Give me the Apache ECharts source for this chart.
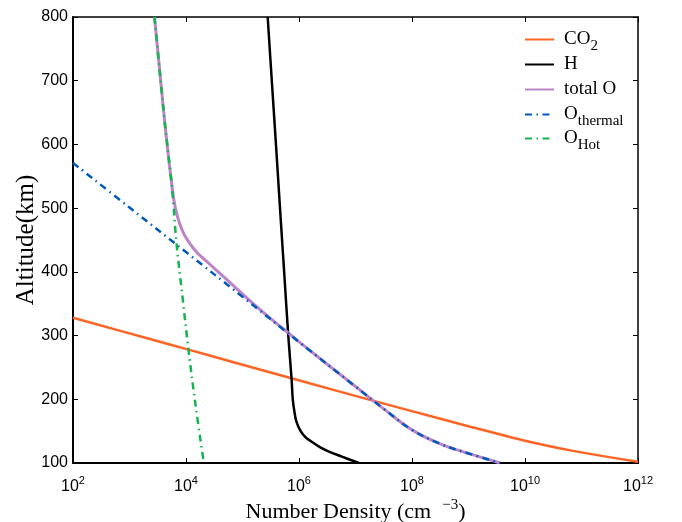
<!DOCTYPE html>
<html>
<head>
<meta charset="utf-8">
<script src="https://cdn.jsdelivr.net/npm/echarts@6/dist/echarts.min.js"></script>
<style>
html,body{margin:0;padding:0;background:#fff;}
#chart{width:682px;height:522px;}
</style>
</head>
<body>
<div id="chart"></div>
<script>
// ---- data (number density in cm^-3, altitude in km) ----
const co2Density = [1.0e2, 2.3e3, 1.15e4, 6.0e4, 8.5e5, 2.1e7, 3.2e8, 1.07e9, 2.4e9, 1.0e10, 7.1e10, 1.0e12];
const co2Altitude = [328, 294.5, 277.5, 259.8, 231.5, 197.5, 169.5, 157, 149, 135, 119, 102];

const hDensity = [2.79e5, 3.30e5, 3.91e5, 4.61e5, 5.46e5, 6.46e5, 7.41e5, 7.76e5, 8.32e5, 9.0e5, 1.07e6, 1.32e6, 1.70e6, 2.34e6, 3.39e6, 5.75e6, 1.15e7];
const hAltitude = [800, 700, 600, 500, 400, 300, 230, 200, 180, 165, 150, 140, 133, 125, 118, 110, 100];

const totalODensity = [2.77e3, 3.56e3, 4.17e3, 4.90e3, 5.56e3, 6.17e3, 6.92e3, 7.76e3, 9.12e3, 1.10e4, 1.35e4, 1.66e4, 2.09e4, 2.95e4, 4.17e4, 5.89e4, 1.12e5, 2.09e5, 3.89e5, 7.41e5, 1.0e6, 1.0e7, 3.16e7, 1.0e8, 3.16e8, 1.0e9, 3.63e9];
const totalOAltitude = [800, 700, 638, 580, 540, 510, 490, 475, 460, 448, 437, 428, 420, 408, 396, 384, 361, 340, 320, 300, 290, 220, 185, 152, 130, 115, 100];

const oThermalDensity = [1.0e2, 1.0e3, 1.0e4, 1.0e5, 1.0e6, 1.0e7, 3.16e7, 1.0e8, 3.16e8, 1.0e9, 3.63e9];
const oThermalAltitude = [571, 501, 431, 361, 290, 220, 185, 152, 130, 115, 100];

const oHotDensity = [2.77e3, 3.56e3, 4.17e3, 5.65e3, 6.79e3, 8.69e3, 1.11e4, 1.48e4, 2.07e4];
const oHotAltitude = [800, 700, 638, 532, 445, 360, 277, 190, 100];

const yTicks = [100, 200, 300, 400, 500, 600, 700, 800];

function pairs(xs, ys) { return xs.map((x, i) => [x, ys[i]]); }

const SERIF = '"Liberation Serif", "DejaVu Serif", serif';
const SANS = '"Liberation Sans", Arial, sans-serif';

const seriesDefs = [
  { name: 'CO2', label: 'CO{sub|2}', data: pairs(co2Density, co2Altitude), color: '#FF6424', width: 2.5, type: 'solid' },
  { name: 'H', label: 'H', data: pairs(hDensity, hAltitude), color: '#000000', width: 2.5, type: 'solid' },
  { name: 'total O', label: 'total O', data: pairs(totalODensity, totalOAltitude), color: '#BE82C8', width: 3, type: 'solid' },
  { name: 'O thermal', label: 'O{sub|thermal}', data: pairs(oThermalDensity, oThermalAltitude), color: '#005ABE', width: 2.5, type: [7, 4.5, 1.5, 4.5] },
  { name: 'O Hot', label: 'O{sub|Hot}', data: pairs(oHotDensity, oHotAltitude), color: '#14B450', width: 2.5, type: [7, 4.5, 1.5, 4.5] }
];

const legendRich = {
  sub: { fontFamily: SERIF, fontSize: 15, color: '#000', padding: [13, 0, 0, 0] }
};
const legendTops = [30, 55, 80, 105, 129];

const chart = echarts.init(document.getElementById('chart'), null, { renderer: 'canvas' });

const option = {
  animation: false,
  backgroundColor: '#ffffff',
  grid: { left: 73, right: 44, top: 17, bottom: 59, containLabel: false, outerBoundsMode: 'none' },
  legend: seriesDefs.map((s, i) => ({
    data: [s.name],
    left: 524,
    top: legendTops[i],
    orient: 'vertical',
    itemWidth: 29,
    itemHeight: 14,
    itemGap: 0,
    padding: 0,
    selectedMode: false,
    itemStyle: { opacity: 0, color: 'rgba(0,0,0,0)', borderWidth: 0 },
    formatter: () => s.label,
    textStyle: { fontFamily: SERIF, fontSize: 19, color: '#000', padding: [0, 0, 0, 5], rich: legendRich }
  })),
  xAxis: [
    {
      type: 'log', logBase: 10, min: 1e2, max: 1e12, interval: 2,
      position: 'bottom',
      axisLine: { show: true, onZero: false, lineStyle: { color: '#000', width: 2 } },
      axisTick: { show: true, inside: true, length: 5, lineStyle: { color: '#000', width: 1 } },
      minorTick: { show: false },
      splitLine: { show: false },
      axisLabel: {
        margin: 12,
        fontFamily: SANS, fontSize: 16, color: '#000',
        formatter: v => '10{sup|' + Math.round(Math.log10(v)) + '}',
        rich: { sup: { fontFamily: SANS, fontSize: 11, color: '#000', padding: [0, 0, 12, 0] } }
      },
      name: 'Number Density (cm  {sup|−3})',
      nameLocation: 'middle',
      nameMoveOverlap: false,
      nameGap: 35,
      nameTextStyle: {
        fontFamily: SERIF, fontSize: 22, color: '#000',
        rich: { sup: { fontFamily: SERIF, fontSize: 15, color: '#000', padding: [0, 0, 14, 0] } }
      }
    },
    {
      type: 'log', logBase: 10, min: 1e2, max: 1e12, interval: 2,
      position: 'top',
      axisLine: { show: true, onZero: false, lineStyle: { color: '#000', width: 1.5 } },
      axisTick: { show: true, inside: true, length: 5, lineStyle: { color: '#000', width: 1 } },
      axisLabel: { show: false },
      splitLine: { show: false }
    }
  ],
  yAxis: [
    {
      type: 'value', min: 100, max: 800, interval: 100,
      position: 'left',
      axisLine: { show: true, onZero: false, lineStyle: { color: '#000', width: 2 } },
      axisTick: { show: true, inside: true, length: 5, lineStyle: { color: '#000', width: 1 } },
      splitLine: { show: false },
      axisLabel: { margin: 5, fontFamily: SANS, fontSize: 16, color: '#000',
        formatter: v => (yTicks.indexOf(v) >= 0 ? String(v) : '') },
      name: 'Altitude(km)',
      nameLocation: 'middle',
      nameMoveOverlap: false,
      nameGap: 34,
      nameTextStyle: { fontFamily: SERIF, fontSize: 25, color: '#000' }
    },
    {
      type: 'value', min: 100, max: 800, interval: 100,
      position: 'right',
      axisLine: { show: true, onZero: false, lineStyle: { color: '#000', width: 1.5 } },
      axisTick: { show: true, inside: true, length: 5, lineStyle: { color: '#000', width: 1 } },
      axisLabel: { show: false },
      splitLine: { show: false }
    }
  ],
  series: seriesDefs.map(s => ({
    name: s.name,
    type: 'line',
    xAxisIndex: 0,
    yAxisIndex: 0,
    data: s.data,
    smooth: 0.4,
    symbol: 'none',
    showSymbol: false,
    clip: true,
    color: s.color,
    lineStyle: { color: s.color, width: s.width, type: s.type },
    emphasis: { disabled: true }
  }))
};

chart.setOption(option);
</script>
</body>
</html>
